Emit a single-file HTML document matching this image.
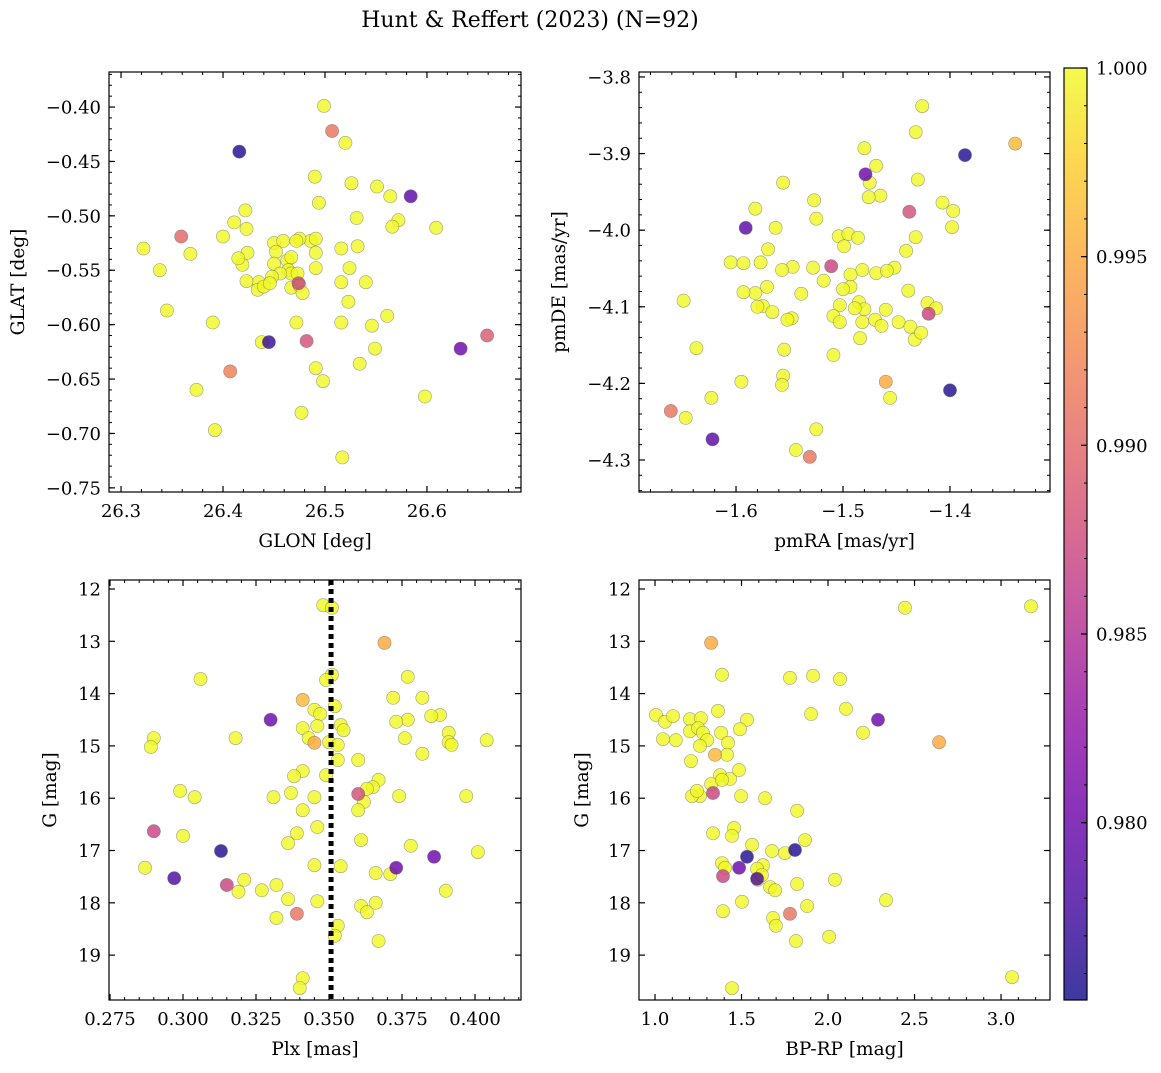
<!DOCTYPE html>
<html><head><meta charset="utf-8">
<style>
html,body{margin:0;padding:0;background:#fff;}
svg text{font-family:"DejaVu Serif","Liberation Serif",serif;fill:#000;}
</style></head>
<body>
<svg id="fig" width="1161" height="1068" viewBox="0 0 1161 1068" xmlns="http://www.w3.org/2000/svg">
<defs>
<linearGradient id="plasma" x1="0" y1="1" x2="0" y2="0">
<stop offset="0" stop-color="#0d0887"/><stop offset="0.1" stop-color="#41049d"/><stop offset="0.2" stop-color="#6a00a8"/><stop offset="0.3" stop-color="#8f0da4"/><stop offset="0.4" stop-color="#b12a90"/><stop offset="0.5" stop-color="#cc4778"/><stop offset="0.6" stop-color="#e16462"/><stop offset="0.7" stop-color="#f2844b"/><stop offset="0.8" stop-color="#fca636"/><stop offset="0.9" stop-color="#fcce25"/><stop offset="1" stop-color="#f0f921"/>
</linearGradient>
</defs>
<text x="530" y="27" font-size="22" text-anchor="middle">Hunt &amp; Reffert (2023) (N=92)</text>
</svg>
<script>
// ---------- data ----------
const p1Glon=[26.507,26.499,26.520,26.416,26.526,26.490,26.584,26.551,26.564,26.494,26.422,26.411,26.531,26.572,26.609,26.566,26.359,26.322,26.400,26.423,26.532,26.486,26.516,26.450,26.459,26.475,26.472,26.491,26.368,26.338,26.419,26.424,26.415,26.452,26.463,26.467,26.450,26.491,26.491,26.524,26.464,26.467,26.456,26.448,26.473,26.435,26.423,26.434,26.440,26.467,26.475,26.446,26.478,26.540,26.516,26.523,26.345,26.390,26.472,26.516,26.546,26.561,26.438,26.549,26.491,26.534,26.498,26.374,26.477,26.598,26.392,26.517,26.474,26.445,26.482,26.407,26.633,26.659];
const p1Glat=[-0.422,-0.399,-0.433,-0.441,-0.470,-0.464,-0.482,-0.473,-0.482,-0.488,-0.495,-0.506,-0.502,-0.504,-0.511,-0.510,-0.519,-0.530,-0.519,-0.512,-0.528,-0.523,-0.530,-0.525,-0.523,-0.521,-0.523,-0.521,-0.535,-0.550,-0.545,-0.534,-0.539,-0.533,-0.541,-0.538,-0.544,-0.534,-0.548,-0.548,-0.550,-0.553,-0.553,-0.556,-0.553,-0.561,-0.560,-0.568,-0.565,-0.566,-0.564,-0.562,-0.571,-0.561,-0.561,-0.579,-0.587,-0.598,-0.598,-0.598,-0.601,-0.592,-0.616,-0.622,-0.640,-0.636,-0.652,-0.660,-0.681,-0.666,-0.697,-0.722,-0.562,-0.616,-0.615,-0.643,-0.622,-0.610];
const p1Prob=[0.991,1,1,0.976,1,1,0.979,1,1,1,1,1,1,1,1,1,0.990,1,1,1,1,1,1,1,1,1,1,1,1,1,1,1,1,1,1,1,1,1,1,1,1,1,1,1,1,1,1,1,1,1,1,1,1,1,1,1,1,1,1,1,1,1,1,1,1,1,1,1,1,1,1,1,0.987,0.977,0.988,0.992,0.980,0.989];

const p2Pmra=[-1.426,-1.432,-1.339,-1.386,-1.480,-1.430,-1.479,-1.475,-1.469,-1.556,-1.465,-1.476,-1.407,-1.438,-1.582,-1.527,-1.525,-1.397,-1.591,-1.563,-1.398,-1.504,-1.495,-1.486,-1.499,-1.432,-1.570,-1.441,-1.605,-1.593,-1.577,-1.547,-1.528,-1.511,-1.482,-1.493,-1.469,-1.452,-1.459,-1.557,-1.518,-1.493,-1.500,-1.571,-1.582,-1.593,-1.539,-1.575,-1.580,-1.566,-1.548,-1.552,-1.503,-1.485,-1.480,-1.489,-1.460,-1.470,-1.448,-1.439,-1.421,-1.413,-1.420,-1.649,-1.509,-1.503,-1.482,-1.464,-1.437,-1.433,-1.427,-1.637,-1.555,-1.509,-1.484,-1.556,-1.557,-1.595,-1.460,-1.400,-1.456,-1.623,-1.661,-1.647,-1.525,-1.622,-1.544,-1.531];
const p2Pmde=[-3.838,-3.872,-3.887,-3.902,-3.893,-3.934,-3.927,-3.938,-3.916,-3.938,-3.955,-3.957,-3.964,-3.976,-3.972,-3.961,-3.985,-3.975,-3.997,-3.997,-3.996,-4.008,-4.005,-4.010,-4.021,-4.009,-4.025,-4.027,-4.042,-4.043,-4.042,-4.048,-4.049,-4.047,-4.052,-4.058,-4.056,-4.049,-4.053,-4.052,-4.066,-4.074,-4.077,-4.074,-4.082,-4.081,-4.083,-4.099,-4.100,-4.107,-4.115,-4.117,-4.098,-4.094,-4.103,-4.102,-4.104,-4.117,-4.120,-4.079,-4.095,-4.102,-4.109,-4.092,-4.112,-4.120,-4.120,-4.125,-4.126,-4.143,-4.134,-4.154,-4.156,-4.163,-4.141,-4.190,-4.202,-4.198,-4.198,-4.209,-4.219,-4.219,-4.236,-4.245,-4.260,-4.273,-4.287,-4.296];
const p2Prob=[1,1,0.996,0.976,1,1,0.980,1,1,1,1,1,1,0.988,1,1,1,1,0.979,1,1,1,1,1,1,1,1,1,1,1,1,1,1,0.987,1,1,1,1,1,1,1,1,1,1,1,1,1,1,1,1,1,1,1,1,1,1,1,1,1,1,1,1,0.987,1,1,1,1,1,1,1,1,1,1,1,1,1,1,1,0.995,0.976,1,1,0.991,1,1,0.979,1,0.991];

const p3Plx=[0.348,0.351,0.369,0.306,0.377,0.351,0.349,0.341,0.372,0.352,0.382,0.345,0.347,0.330,0.388,0.385,0.377,0.373,0.341,0.346,0.354,0.355,0.343,0.391,0.318,0.404,0.290,0.289,0.376,0.345,0.350,0.353,0.391,0.392,0.382,0.360,0.353,0.341,0.338,0.349,0.367,0.365,0.363,0.299,0.304,0.331,0.337,0.345,0.360,0.374,0.397,0.341,0.362,0.360,0.346,0.339,0.290,0.300,0.361,0.378,0.336,0.313,0.386,0.401,0.287,0.345,0.354,0.373,0.366,0.371,0.297,0.315,0.321,0.327,0.319,0.332,0.336,0.346,0.339,0.332,0.361,0.363,0.366,0.390,0.353,0.352,0.367,0.341,0.340];
const p3G=[12.31,12.36,13.03,13.72,13.68,13.64,13.74,14.12,14.08,14.24,14.08,14.31,14.39,14.50,14.41,14.43,14.50,14.54,14.66,14.62,14.60,14.70,14.85,14.75,14.85,14.89,14.85,15.02,14.85,14.94,14.93,14.98,14.93,14.98,15.15,15.27,15.27,15.48,15.58,15.56,15.65,15.79,15.82,15.86,15.98,15.98,15.90,15.98,15.92,15.96,15.96,16.23,16.07,16.23,16.55,16.67,16.63,16.72,16.80,16.91,16.86,17.01,17.12,17.03,17.33,17.28,17.30,17.33,17.43,17.45,17.53,17.66,17.56,17.76,17.79,17.66,17.93,17.97,18.21,18.29,18.06,18.18,18.00,17.77,18.44,18.63,18.73,19.44,19.63];
const p3Prob=[1,1,0.995,1,1,1,1,0.996,1,1,1,1,1,0.980,1,1,1,1,1,1,1,1,1,1,1,1,1,1,1,0.995,1,1,1,1,1,1,1,1,1,1,1,1,1,1,1,1,1,1,0.988,1,1,1,1,1,1,1,0.987,1,1,1,1,0.976,0.980,1,1,1,1,0.980,1,1,0.978,0.987,1,1,1,1,1,1,0.991,1,1,1,1,1,1,1,1,1,1];
const plxLine=0.3507;

const p4Bprp=[3.173,2.445,1.324,1.387,1.780,1.913,2.069,2.104,1.902,1.006,1.058,1.104,1.202,1.266,1.532,1.121,1.046,1.202,1.364,1.249,1.277,1.301,1.260,1.382,1.422,1.491,1.416,1.347,2.289,2.202,2.642,1.208,1.376,1.434,1.324,1.260,1.214,1.243,1.387,1.497,1.486,1.636,1.335,1.821,1.335,1.457,1.445,1.867,1.561,1.676,1.751,1.809,1.532,1.624,1.387,1.486,1.405,1.590,1.595,1.618,2.040,1.393,1.590,1.665,1.694,2.335,1.503,1.393,1.879,1.821,1.780,1.682,1.699,1.815,2.006,3.064,1.445];
const p4G=[12.33,12.36,13.03,13.64,13.70,13.66,13.72,14.29,14.39,14.41,14.54,14.43,14.49,14.47,14.50,14.89,14.87,14.72,14.33,14.66,14.75,14.89,15.00,14.75,14.94,14.68,15.17,15.17,14.50,14.75,14.93,15.29,15.56,15.63,15.73,15.96,15.96,15.86,15.65,15.96,15.46,16.00,15.90,16.24,16.67,16.57,16.72,16.80,16.89,17.01,17.05,16.99,17.12,17.28,17.24,17.33,17.33,17.35,17.56,17.47,17.56,17.49,17.54,17.70,17.76,17.95,17.98,18.16,18.06,17.64,18.21,18.29,18.44,18.73,18.65,19.42,19.63];
const p4Prob=[1,1,0.995,1,1,1,1,1,1,1,1,1,1,1,1,1,1,1,1,1,1,1,1,1,1,1,1,0.996,0.980,1,0.995,1,1,1,1,1,1,1,1,1,1,1,0.987,1,1,1,1,1,1,1,1,0.976,0.976,1,1,0.980,1,1,1,1,1,0.987,0.978,1,1,1,1,1,1,1,0.991,1,1,1,1,1,1];

const cbTicks=[0.980,0.985,0.990,0.995,1.000];
const p1XTicks=[26.3,26.4,26.5,26.6], p1YTicks=[-0.40,-0.45,-0.50,-0.55,-0.60,-0.65,-0.70,-0.75];
const p2XTicks=[-1.6,-1.5,-1.4], p2YTicks=[-3.8,-3.9,-4.0,-4.1,-4.2,-4.3];
const p3XTicks=[0.275,0.300,0.325,0.350,0.375,0.400], gTicks=[12,13,14,15,16,17,18,19];
const p4XTicks=[1.0,1.5,2.0,2.5,3.0];

// ---------- drawing ----------
const NS='http://www.w3.org/2000/svg';
const svg=document.getElementById('fig');
const VMIN=0.9753,VMAX=1.0;
const stops=[[13,8,135],[65,4,157],[106,0,168],[143,13,164],[177,42,144],[204,71,120],[225,100,98],[242,132,75],[252,166,54],[252,206,37],[240,249,33]];
function plasma(v){let t=(v-VMIN)/(VMAX-VMIN);t=Math.max(0,Math.min(1,t))*10;const i=Math.min(9,Math.floor(t)),f=t-i;const a=stops[i],b=stops[i+1];return 'rgb('+a.map((c,k)=>Math.round(c+(b[k]-c)*f)).join(',')+')';}
function mk(tag,attrs,parent){const e=document.createElementNS(NS,tag);for(const k in attrs)e.setAttribute(k,attrs[k]);(parent||svg).appendChild(e);return e;}

function panel(o){
  const g=mk('g',{});
  
  
  const sx=v=>o.x0+(v-o.xmin)/(o.xmax-o.xmin)*(o.x1-o.x0);
  const sy=v=>o.y1-(v-o.ymin)/(o.ymax-o.ymin)*(o.y1-o.y0);
  const order=o.xs.map((_,i)=>i).sort((a,b)=>o.ps[b]-o.ps[a]);
  order.forEach(i=>{
    const c=mk('circle',{cx:sx(o.xs[i]).toFixed(1),cy:sy(o.ys[i]).toFixed(1),r:6.6,fill:plasma(o.ps[i]),'fill-opacity':0.8,stroke:'#666','stroke-opacity':0.6,'stroke-width':0.6},g);
    
    
  });
  if(o.vline!==undefined){
    const l=mk('line',{x1:sx(o.vline),x2:sx(o.vline),y1:o.y0,y2:o.y1,stroke:'#000','stroke-width':5,'stroke-dasharray':'5,4'},g);
    
    
  }
  const fr=mk('rect',{x:o.x0,y:o.y0,width:o.x1-o.x0,height:o.y1-o.y0,fill:'none',stroke:'#000','stroke-width':1.2},g);
  
  
  const eps=1e-9;
  let s=Math.ceil(o.xmin/o.xmi-eps);
  for(let k=s;k*o.xmi<=o.xmax+eps;k++){const x=sx(k*o.xmi);mk('line',{x1:x,x2:x,y1:o.y1,y2:o.y1-3,stroke:'#000'},g);mk('line',{x1:x,x2:x,y1:o.y0,y2:o.y0+3,stroke:'#000'},g);}
  s=Math.ceil(o.ymin/o.ymi-eps);
  for(let k=s;k*o.ymi<=o.ymax+eps;k++){const y=sy(k*o.ymi);mk('line',{x1:o.x0,x2:o.x0+3,y1:y,y2:y,stroke:'#000'},g);mk('line',{x1:o.x1,x2:o.x1-3,y1:y,y2:y,stroke:'#000'},g);}
  o.xt.forEach(v=>{const x=sx(v);mk('line',{x1:x,x2:x,y1:o.y1,y2:o.y1-6,stroke:'#000','stroke-width':1.2},g);mk('line',{x1:x,x2:x,y1:o.y0,y2:o.y0+6,stroke:'#000','stroke-width':1.2},g);
    const t=mk('text',{x:x,y:o.y1+25,'font-size':18,'text-anchor':'middle'},g);t.textContent=o.xf(v).replace('-','\u2212');
    
    });
  o.yt.forEach(v=>{const y=sy(v);mk('line',{x1:o.x0,x2:o.x0+6,y1:y,y2:y,stroke:'#000','stroke-width':1.2},g);mk('line',{x1:o.x1,x2:o.x1-6,y1:y,y2:y,stroke:'#000','stroke-width':1.2},g);
    const t=mk('text',{x:o.x0-8,y:y+6.5,'font-size':18,'text-anchor':'end'},g);t.textContent=o.yf(v).replace('-','\u2212');
    
    });
  const xl=mk('text',{x:(o.x0+o.x1)/2,y:o.y1+55,'font-size':18.5,'text-anchor':'middle'},g);xl.textContent=o.xlabel;
  
  
  const yx=o.ylx,yy=(o.y0+o.y1)/2;
  const yl=mk('text',{x:yx,y:yy,'font-size':18.5,'text-anchor':'middle',transform:'rotate(-90 '+yx+' '+yy+')'},g);yl.textContent=o.ylabel;
  
  
}
panel({name:'glon-glat-panel',x0:109,x1:521,y0:72,y1:492,xmin:26.2882,xmax:26.6922,ymin:-0.7538,ymax:-0.3678,xs:p1Glon,ys:p1Glat,ps:p1Prob,xt:p1XTicks,yt:p1YTicks,xmi:0.02,ymi:0.01,xf:v=>v.toFixed(1),yf:v=>v.toFixed(2),xlabel:'GLON [deg]',ylabel:'GLAT [deg]',ylx:24});
panel({name:'proper-motion-panel',x0:639,x1:1050,y0:72,y1:492,xmin:-1.6907,xmax:-1.3065,ymin:-4.3418,ymax:-3.7935,xs:p2Pmra,ys:p2Pmde,ps:p2Prob,xt:p2XTicks,yt:p2YTicks,xmi:0.02,ymi:0.02,xf:v=>v.toFixed(1),yf:v=>v.toFixed(1),xlabel:'pmRA [mas/yr]',ylabel:'pmDE [mas/yr]',ylx:565});
panel({name:'parallax-mag-panel',x0:109,x1:521,y0:580,y1:1000,xmin:0.27466,xmax:0.41575,ymin:19.858,ymax:11.828,xs:p3Plx,ys:p3G,ps:p3Prob,xt:p3XTicks,yt:gTicks,xmi:0.005,ymi:0.2,xf:v=>v.toFixed(3),yf:v=>String(v),xlabel:'Plx [mas]',ylabel:'G [mag]',ylx:56,vline:plxLine});
panel({name:'color-mag-panel',x0:639,x1:1050,y0:580,y1:1000,xmin:0.9075,xmax:3.283,ymin:19.858,ymax:11.828,xs:p4Bprp,ys:p4G,ps:p4Prob,xt:p4XTicks,yt:gTicks,xmi:0.1,ymi:0.2,xf:v=>v.toFixed(1),yf:v=>String(v),xlabel:'BP-RP [mag]',ylabel:'G [mag]',ylx:588});

const cb=mk('g',{});


const cx0=1064,cx1=1087,cy0=68,cy1=1000;
const cy=v=>cy1-(v-VMIN)/(VMAX-VMIN)*(cy1-cy0);
mk('rect',{x:cx0,y:cy0,width:cx1-cx0,height:cy1-cy0,fill:'url(#plasma)','fill-opacity':0.8},cb);
mk('rect',{x:cx0,y:cy0,width:cx1-cx0,height:cy1-cy0,fill:'none',stroke:'#000','stroke-width':1.2},cb);
for(let k=Math.ceil(VMIN/0.001);k*0.001<=VMAX+1e-9;k++){const y=cy(k*0.001);mk('line',{x1:cx1,x2:cx1-3,y1:y,y2:y,stroke:'#000'},cb);}
cbTicks.forEach(v=>{const y=cy(v);mk('line',{x1:cx1,x2:cx1-6,y1:y,y2:y,stroke:'#000','stroke-width':1.2},cb);
  const t=mk('text',{x:cx1+9,y:y+6.5,'font-size':18},cb);t.textContent=v.toFixed(3);
  
  });
</script>
</body></html>
